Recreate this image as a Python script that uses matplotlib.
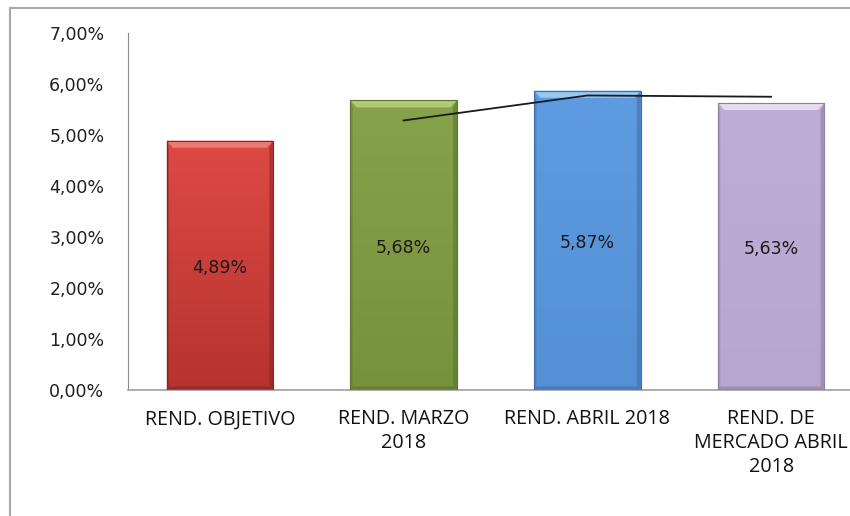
import matplotlib
matplotlib.use("Agg")
from matplotlib import pyplot as plt
from matplotlib.patches import Rectangle, Polygon
from matplotlib.lines import Line2D
from matplotlib.colors import LinearSegmentedColormap
import numpy as np

# datos del grafico
categorias = ["REND. OBJETIVO", "REND. MARZO\n2018", "REND. ABRIL 2018", "REND. DE\nMERCADO ABRIL\n2018"]
rendimientos = [4.89, 5.68, 5.87, 5.63]
etiquetas = ["4,89%", "5,68%", "5,87%", "5,63%"]
# media movil de 2 periodos (linea de tendencia)
tendencia_x = [1, 2, 3]
tendencia_y = [5.285, 5.775, 5.75]
ticks_y = [0, 1, 2, 3, 4, 5, 6, 7]

# colores (claro arriba, oscuro abajo, bisel, borde)
colores = [
    ("#DE4A45", "#B6332F", "#EC7C77", "#8A2522"),
    ("#86A24A", "#77923C", "#B0CB74", "#5B7230"),
    ("#5E9BE0", "#5590D6", "#97C8F4", "#3E6CA6"),
    ("#BEADD5", "#B7A6CE", "#E6DBF3", "#8D7EA3"),
]

ancho = 0.58


def dibujar_barra(ax, x, h, col):
    top, bottom, bisel, borde = col
    x0 = x - ancho / 2
    cmap = LinearSegmentedColormap.from_list("g", [bottom, top])
    grad = np.linspace(0, 1, 256).reshape(-1, 1)
    rect = Rectangle((x0, 0), ancho, h, facecolor="none", edgecolor="none")
    ax.add_patch(rect)
    im = ax.imshow(grad, cmap=cmap, origin="lower", aspect="auto",
                   extent=(x0, x0 + ancho, 0, h), zorder=2)
    im.set_clip_path(rect)
    bx = 0.035
    by = 0.14
    # bisel superior
    ax.add_patch(Polygon([(x0, h), (x0 + ancho, h), (x0 + ancho - bx, h - by), (x0 + bx, h - by)],
                         closed=True, facecolor=bisel, edgecolor="none", zorder=3))
    # lados oscuros
    ax.add_patch(Polygon([(x0 + ancho, h), (x0 + ancho, 0), (x0 + ancho - bx * 0.6, by * 0.5), (x0 + ancho - bx * 0.6, h - by)],
                         closed=True, facecolor=borde, edgecolor="none", alpha=0.55, zorder=3))
    ax.add_patch(Polygon([(x0, h), (x0, 0), (x0 + bx * 0.4, by * 0.5), (x0 + bx * 0.4, h - by)],
                         closed=True, facecolor=borde, edgecolor="none", alpha=0.35, zorder=3))
    ax.add_patch(Polygon([(x0, 0), (x0 + ancho, 0), (x0 + ancho - bx * 0.6, by * 0.5), (x0 + bx * 0.4, by * 0.5)],
                         closed=True, facecolor=borde, edgecolor="none", alpha=0.6, zorder=3))
    ax.add_patch(Rectangle((x0, 0), ancho, h, facecolor="none", edgecolor=borde,
                           linewidth=0.8, zorder=4))


fig = plt.figure(figsize=(8.5, 5.16), dpi=100)
ax = fig.add_axes([128 / 850, 126 / 516, 735 / 850, 357 / 516])

for i, (v, col) in enumerate(zip(rendimientos, colores)):
    dibujar_barra(ax, i, v, col)
    ax.text(i, v / 2 - 0.06, etiquetas[i], ha="center", va="center", fontsize=12.5,
            color="#1a1a1a", zorder=6)

ax.plot(tendencia_x, tendencia_y, color="#1a1a1a", linewidth=1.3, zorder=5)

ax.set_xlim(-0.5, 3.5)
ax.set_ylim(0, 7)
ax.set_yticks(ticks_y)
ax.set_yticklabels([f"{t},00%" for t in ticks_y], fontsize=12.5, color="#1f1f1f")
ax.set_xticks(range(len(categorias)))
ax.set_xticklabels(categorias, fontsize=14.2, family=["Open Sans", "DejaVu Sans"],
                   linespacing=1.25, color="#111111")
ax.tick_params(axis="y", length=0, pad=17)
ax.tick_params(axis="x", length=0, pad=14)
for s in ["top", "right"]:
    ax.spines[s].set_visible(False)
ax.spines["left"].set_color("#8a8a8a")
ax.spines["bottom"].set_color("#a0a0a0")
ax.spines["bottom"].set_linewidth(1.2)

# marco del grafico
fig.add_artist(Line2D([10 / 850, 1], [1 - 8 / 516, 1 - 8 / 516], color="#a8a8a8", linewidth=1.5))
fig.add_artist(Line2D([10 / 850, 10 / 850], [0, 1 - 8 / 516], color="#a8a8a8", linewidth=1.5))

fig.savefig("out.png", dpi=100)
